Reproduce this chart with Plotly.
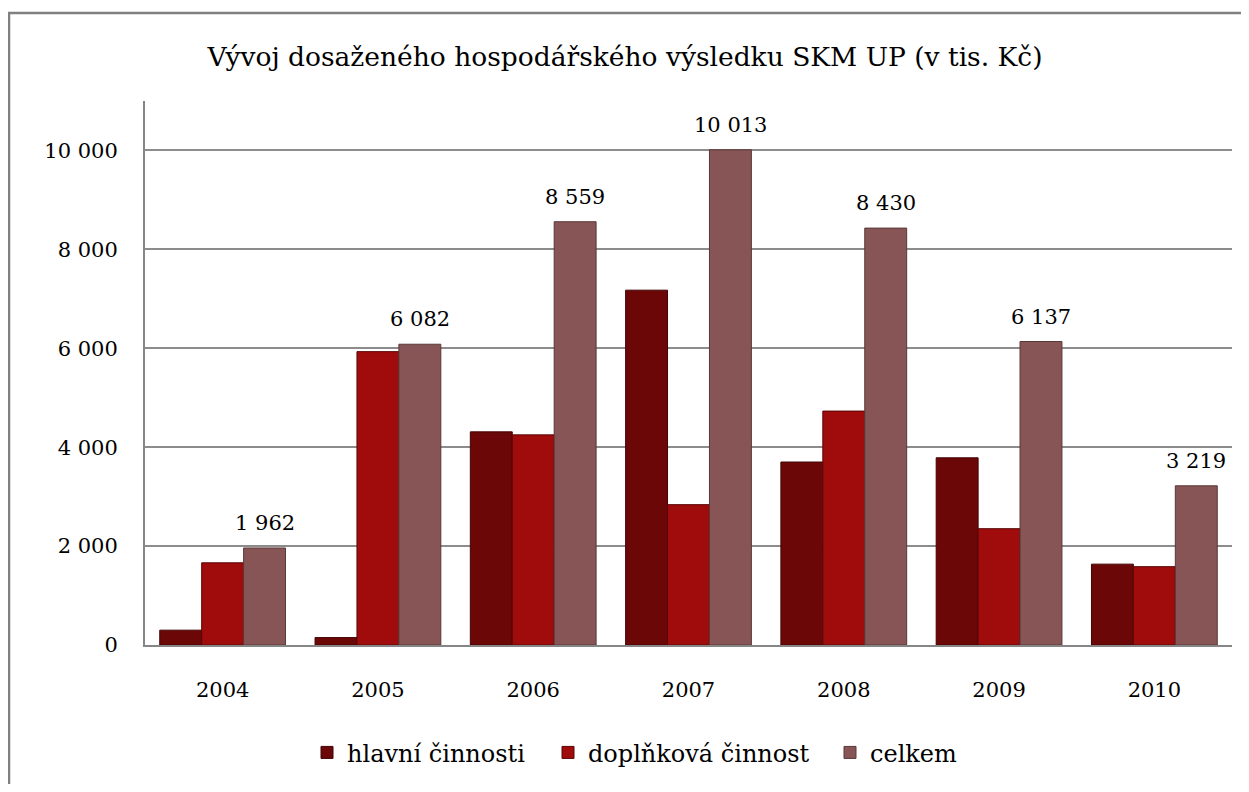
import plotly.graph_objects as go

years = ["2004", "2005", "2006", "2007", "2008", "2009", "2010"]
hlavni = [300, 150, 4310, 7175, 3700, 3785, 1635]
doplnkova = [1662, 5932, 4249, 2838, 4730, 2352, 1584]
celkem = [1962, 6082, 8559, 10013, 8430, 6137, 3219]
y_ticks = [0, 2000, 4000, 6000, 8000, 10000]
series_names = ["hlavní činnosti", "doplňková činnost", "celkem"]

FONT = "DejaVu Serif"
OFF = 8  # default page margin of the html body
W, H = 1233, 776
L, T = 145 - OFF, 101 - OFF
R = W - (1232 - OFF)
B = H - (651 - OFF)
pw, ph = W - L - R, H - T - B
BARGAP = 0.19

def px(x):
    return (x - OFF - L) / pw

def py(y):
    return (H - B - (y - OFF)) / ph

fig = go.Figure()
fig.add_trace(go.Bar(name=series_names[0], x=years, y=hlavni, legend="legend",
                     marker=dict(color="#6c0707", line=dict(color="#420404", width=1))))
fig.add_trace(go.Bar(name=series_names[1], x=years, y=doplnkova, legend="legend2",
                     marker=dict(color="#a00b0b", line=dict(color="#5a0606", width=1))))
fig.add_trace(go.Bar(name=series_names[2], x=years, y=celkem, legend="legend3",
                     marker=dict(color="#875555", line=dict(color="#5a3838", width=1))))

# value labels above the "celkem" bars
bar_w = pw / len(years) * (1 - BARGAP) / 3
for i, v in enumerate(celkem):
    fig.add_annotation(x=i, y=v, xref="x", yref="y", text=f"{v:,}".replace(",", " "),
                       showarrow=False, xshift=bar_w, yshift=25, yanchor="middle",
                       xanchor="center", font=dict(family=FONT, size=21, color="#000000"))

fig.add_shape(type="rect", xref="paper", yref="paper",
              x0=px(9), x1=px(1262), y0=py(805), y1=py(12),
              line=dict(color="#808080", width=2.5), fillcolor="rgba(0,0,0,0)", layer="below")

leg_common = dict(orientation="h", xanchor="left", y=py(760), yanchor="middle",
                  font=dict(family=FONT, size=24, color="#000000"), itemwidth=30,
                  bgcolor="rgba(0,0,0,0)")

fig.update_layout(
    width=W, height=H,
    margin=dict(l=L, r=R, t=T, b=B),
    paper_bgcolor="white", plot_bgcolor="white",
    showlegend=True,
    separators=", ",
    barmode="group", bargap=BARGAP, bargroupgap=0.0,
    font=dict(family=FONT, size=21, color="#000000"),
    title=dict(text="Vývoj dosaženého hospodářského výsledku SKM UP (v tis. Kč)",
               x=px(625), xanchor="center", xref="paper",
               y=1 - (57 - OFF) / H, yanchor="middle",
               font=dict(family=FONT, size=26.5, color="#000000")),
    legend=dict(x=px(307), **leg_common),
    legend2=dict(x=px(548), **leg_common),
    legend3=dict(x=px(830), **leg_common),
    xaxis=dict(showline=True, linecolor="#868686", linewidth=2, ticks="",
               showgrid=False, range=[-0.5, 6.5], ticklabelstandoff=25,
               tickfont=dict(family=FONT, size=21)),
    yaxis=dict(range=[0, 11000], tickvals=y_ticks, tickformat=",d",
               showline=True, linecolor="#868686", linewidth=2,
               showgrid=True, gridcolor="#8c8c8c", gridwidth=2,
               zeroline=False, ticks="", ticklabelstandoff=21,
               tickfont=dict(family=FONT, size=21)),
)

fig.write_html("out.html")
